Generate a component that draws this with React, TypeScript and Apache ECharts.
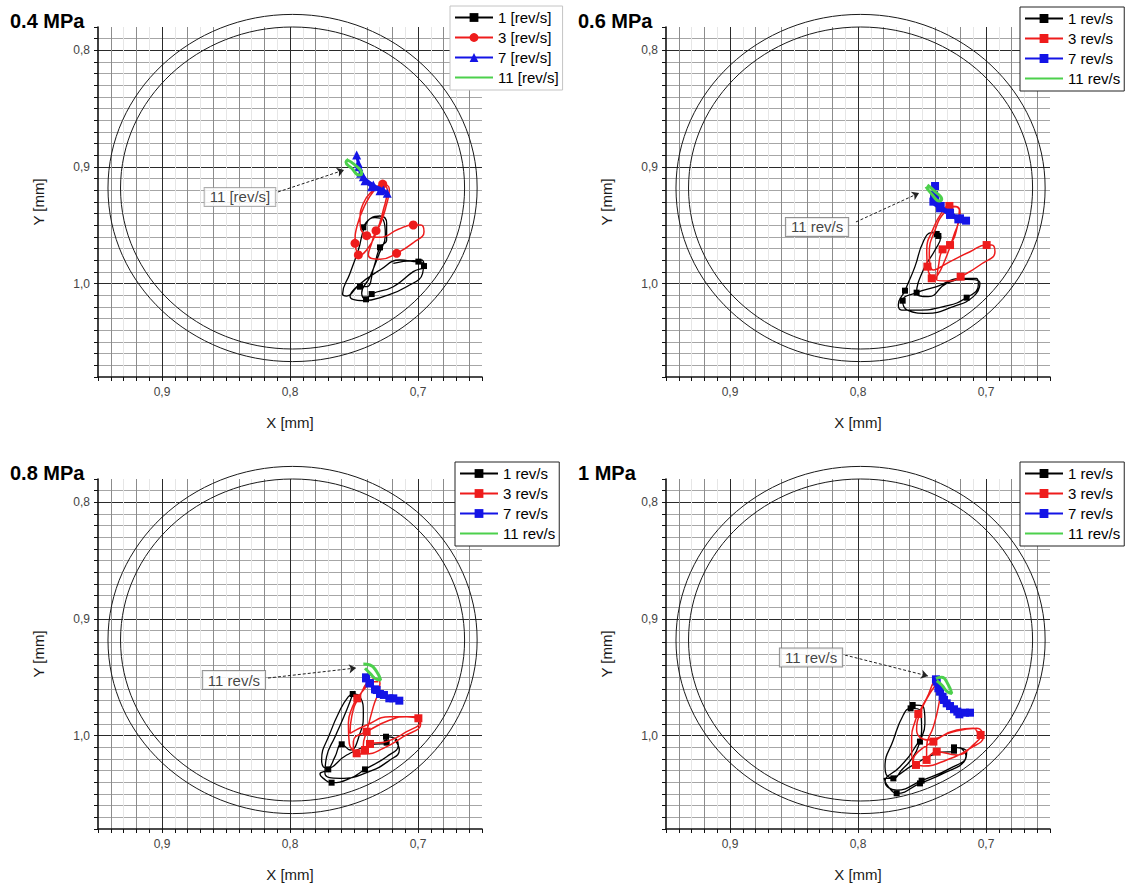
import React, { useEffect, useRef } from "react";
import * as echarts from "echarts";

type Pt = [number, number];

// ---------------- 0.4 MPa ----------------
const p04Rev1: Pt[] = [
  [0.7427, 0.9517], [0.7375, 0.9443], [0.7297, 0.942], [0.7245, 0.9483], [0.7245, 0.9626],
  [0.7297, 0.9689], [0.7344, 0.9854], [0.7401, 1.0026], [0.7453, 1.0026], [0.7557, 1.0106],
  [0.7589, 1.0089], [0.7531, 0.9911], [0.7466, 0.9711], [0.7406, 0.9489], [0.7336, 0.9434],
  [0.7271, 0.9454], [0.7255, 0.9583], [0.7302, 0.974], [0.7375, 0.994], [0.744, 1.0083],
  [0.7406, 1.0134], [0.7362, 1.0089], [0.7193, 1.0026], [0.7037, 0.9897], [0.6953, 0.9849],
  [0.6971, 0.9797], [0.6997, 0.9811], [0.7141, 0.9797], [0.7297, 0.9883], [0.7479, 1.0026],
  [0.7531, 1.0111], [0.7427, 1.0146], [0.7271, 1.0111], [0.7089, 1.0026], [0.6964, 0.9911],
  [0.6958, 0.984], [0.7037, 0.9803], [0.7193, 0.9826],
];
const p04Rev1Marks = [0, 5, 8, 20, 21, 24, 26];
const p04Rev3: Pt[] = [
  [0.7466, 0.9754], [0.7492, 0.9654], [0.7474, 0.9497], [0.7414, 0.9326], [0.7344, 0.9203],
  [0.7276, 0.9146], [0.7224, 0.9191], [0.725, 0.934], [0.7297, 0.9497], [0.7328, 0.9546],
  [0.7362, 0.9654], [0.7388, 0.9754], [0.7297, 0.9791], [0.7167, 0.974], [0.7037, 0.9649],
  [0.6953, 0.9554], [0.6979, 0.9497], [0.7037, 0.9497], [0.7154, 0.9534], [0.7297, 0.9603],
  [0.7401, 0.9589], [0.7453, 0.9454], [0.7427, 0.9311], [0.7362, 0.9211], [0.7284, 0.9154],
  [0.724, 0.9197], [0.7271, 0.9369], [0.7323, 0.9554], [0.7401, 0.9711], [0.7458, 0.9763],
];
const p04Rev3Marks = [0, 1, 5, 9, 13, 17, 20];
const p04Rev7: Pt[] = [
  [0.7479, 0.8897], [0.7466, 0.8969], [0.7448, 0.9054], [0.7414, 0.9117], [0.7362, 0.9169],
  [0.7297, 0.9203], [0.724, 0.9226], [0.7271, 0.9197], [0.7349, 0.9154], [0.7427, 0.9083],
  [0.7463, 0.8997],
];
const p04Rev11: Pt[] = [
  [0.7552, 0.894], [0.7492, 0.8983], [0.744, 0.9054], [0.7458, 0.9069], [0.7518, 0.9011],
  [0.7563, 0.8957], [0.7544, 0.8934],
];
const p04NotePos: Pt = [0.8391, 0.9257];
const p04Arrow: Pt[] = [[0.8094, 0.9214], [0.7578, 0.9026]];

// ---------------- 0.6 MPa ----------------
const p06Rev1: Pt[] = [
  [0.7372, 0.9591], [0.7424, 0.9563], [0.749, 0.964], [0.7555, 0.9854], [0.762, 1.0026],
  [0.7633, 1.006], [0.7685, 1.0183], [0.7659, 1.0226], [0.7542, 1.0226], [0.7333, 1.0197],
  [0.7151, 1.012], [0.706, 1.0011], [0.7073, 0.9954], [0.7203, 0.9954], [0.7385, 1.0026],
  [0.7542, 1.0077], [0.7651, 1.0146], [0.7614, 1.0226], [0.7464, 1.0254], [0.7255, 1.0197],
  [0.7099, 1.0111], [0.7047, 0.9997], [0.7151, 0.9963], [0.7307, 0.9997], [0.7451, 1.0111],
  [0.7542, 1.0077], [0.749, 0.9883], [0.7398, 0.9711], [0.7354, 0.9597], [0.7385, 0.9574],
];
const p06Rev1Marks = [0, 5, 10, 15, 16, 29];
const p06Rev3: Pt[] = [
  [0.7424, 0.9954], [0.7458, 0.9854], [0.7463, 0.9711], [0.7411, 0.9526], [0.7346, 0.9391],
  [0.7286, 0.9334], [0.7208, 0.9363], [0.7224, 0.9511], [0.7281, 0.9669], [0.7339, 0.9706],
  [0.7372, 0.9854], [0.7385, 0.9969], [0.7281, 0.9977], [0.7198, 0.994], [0.7047, 0.984],
  [0.693, 0.9726], [0.6956, 0.9669], [0.6995, 0.9669], [0.7125, 0.9726], [0.7281, 0.9811],
  [0.7411, 0.9883], [0.7443, 0.974], [0.7398, 0.954], [0.732, 0.9383], [0.7242, 0.934],
  [0.7203, 0.9397], [0.7255, 0.9597], [0.732, 0.9797], [0.7385, 0.994], [0.7432, 0.9974],
];
const p06Rev3Marks = [0, 1, 5, 8, 9, 13, 17];
const p06Rev7: Pt[] = [
  [0.7398, 0.9163], [0.7406, 0.924], [0.7411, 0.9297], [0.7359, 0.9354], [0.7281, 0.9411],
  [0.7216, 0.9449], [0.7156, 0.946], [0.7203, 0.944], [0.7281, 0.9391], [0.7354, 0.9334],
  [0.7396, 0.9269],
];
const p06Rev11: Pt[] = [
  [0.7458, 0.9154], [0.7398, 0.9211], [0.7346, 0.9277], [0.7365, 0.9291], [0.7425, 0.9231],
  [0.7469, 0.9169],
];
const p06NotePos: Pt = [0.832, 0.9514];
const p06Arrow: Pt[] = [[0.8016, 0.9471], [0.7523, 0.9223]];

// ---------------- 0.8 MPa ----------------
const p08Rev1: Pt[] = [
  [0.751, 0.9643], [0.7453, 0.9666], [0.7427, 0.9809], [0.7453, 0.998], [0.7531, 1.0123],
  [0.7596, 1.0074], [0.7648, 1.018], [0.7701, 1.0289], [0.7766, 1.0329], [0.774, 1.0366],
  [0.7675, 1.0403], [0.7531, 1.0366], [0.7414, 1.0289], [0.7245, 1.018], [0.7154, 1.008],
  [0.718, 1.0023], [0.725, 1.0009], [0.7245, 1.006], [0.7375, 1.008], [0.7557, 1.0166],
  [0.7714, 1.028], [0.7753, 1.0209], [0.7688, 0.998], [0.7609, 0.978], [0.7544, 0.9666],
  [0.751, 0.9643], [0.7557, 0.978], [0.7648, 1.0009], [0.7714, 1.018], [0.7727, 1.0323],
  [0.7609, 1.0366], [0.7401, 1.0317], [0.7219, 1.0209], [0.7146, 1.0123], [0.718, 1.0037],
];
const p08Rev1Marks = [0, 5, 7, 10, 12, 16, 17];
const p08Rev3: Pt[] = [
  [0.7479, 1.0151], [0.7537, 1.0066], [0.7544, 0.9894], [0.7511, 0.9751], [0.7474, 0.968],
  [0.7414, 0.9594], [0.7336, 0.9509], [0.7297, 0.9551], [0.7349, 0.9751], [0.7401, 0.9966],
  [0.7427, 1.008], [0.7414, 1.0123], [0.7375, 1.0071], [0.7245, 1.0051], [0.7089, 0.9966],
  [0.6984, 0.988], [0.6997, 0.9851], [0.7089, 0.9837], [0.7219, 0.9866], [0.7375, 0.9951],
  [0.7505, 1.0051], [0.7505, 1.0137], [0.7414, 1.0157], [0.7271, 1.0109], [0.7115, 1.0009],
  [0.6979, 0.99], [0.7023, 0.9837], [0.7219, 0.9837], [0.7401, 0.9909], [0.7531, 0.998],
  [0.7518, 0.9837], [0.7458, 0.9666], [0.7362, 0.9537], [0.731, 0.9537],
];
const p08Rev3Marks = [0, 4, 9, 11, 12, 16];
const p08Rev7: Pt[] = [
  [0.7406, 0.95], [0.738, 0.9551], [0.7336, 0.9603], [0.7297, 0.9643], [0.7224, 0.968],
  [0.7146, 0.97], [0.7193, 0.968], [0.7266, 0.9651], [0.7323, 0.9609], [0.7375, 0.9551],
  [0.7406, 0.9509],
];
const p08Rev11: Pt[] = [
  [0.7427, 0.9386], [0.7375, 0.9394], [0.7323, 0.9451], [0.7292, 0.9523], [0.7323, 0.9517],
  [0.7375, 0.9466], [0.7414, 0.9423],
];
const p08NotePos: Pt = [0.8438, 0.9523];
const p08Arrow: Pt[] = [[0.8172, 0.9506], [0.7484, 0.942]];

// ---------------- 1 MPa ----------------
const p10Rev1: Pt[] = [
  [0.7573, 0.9737], [0.749, 0.9751], [0.7477, 0.9894], [0.7516, 1.0051], [0.7568, 1.018],
  [0.7659, 1.0294], [0.7724, 1.0366], [0.7797, 1.0366], [0.7763, 1.0437], [0.7698, 1.0494],
  [0.7516, 1.0409], [0.7333, 1.0323], [0.7164, 1.0209], [0.7151, 1.0137], [0.725, 1.01],
  [0.725, 1.0129], [0.7385, 1.0151], [0.7568, 1.0251], [0.775, 1.0357], [0.7789, 1.0266],
  [0.7724, 1.0037], [0.7646, 0.9823], [0.7589, 0.9766], [0.7516, 0.978], [0.7503, 0.9951],
  [0.7568, 1.0123], [0.7672, 1.0266], [0.7789, 1.0394], [0.7698, 1.0466], [0.7503, 1.0386],
  [0.7281, 1.028], [0.7156, 1.0174], [0.7203, 1.01],
];
const p10Rev1Marks = [0, 3, 6, 9, 10, 14, 15, 22, 29];
const p10Rev3: Pt[] = [
  [0.7547, 1.0251], [0.7581, 1.0166], [0.7581, 1.0009], [0.7555, 0.988], [0.7529, 0.9814],
  [0.7464, 0.968], [0.7385, 0.9529], [0.7354, 0.958], [0.7372, 0.9751], [0.7411, 0.9923],
  [0.7464, 1.0094], [0.7464, 1.0208], [0.7385, 1.0137], [0.7229, 1.0166], [0.7086, 1.0066],
  [0.7026, 0.9986], [0.7042, 0.9994], [0.7099, 0.9937], [0.7229, 0.9951], [0.7411, 1.0051],
  [0.7529, 1.0137], [0.7568, 1.0208], [0.749, 1.026], [0.7307, 1.0208], [0.7125, 1.0109],
  [0.7021, 1.0009], [0.7073, 0.9937], [0.7255, 0.9966], [0.7451, 1.0037], [0.7542, 0.9951],
  [0.7516, 0.9809], [0.7438, 0.9637], [0.7372, 0.9537],
];
const p10Rev3Marks = [0, 4, 11, 12, 16, 19];
const p10Rev7: Pt[] = [
  [0.7391, 0.9517], [0.7372, 0.9594], [0.7339, 0.9666], [0.7307, 0.9723], [0.725, 0.9774],
  [0.7208, 0.9817], [0.7125, 0.9803], [0.7164, 0.9803], [0.7224, 0.9794], [0.7281, 0.9746],
  [0.7328, 0.9694], [0.7359, 0.9623], [0.7385, 0.9537],
];
const p10Rev11: Pt[] = [
  [0.7391, 0.9509], [0.7346, 0.95], [0.7294, 0.9566], [0.7268, 0.9638], [0.7302, 0.9623],
  [0.7346, 0.9566], [0.7385, 0.9529],
];
const p10NotePos: Pt = [0.8367, 0.933];
const p10Arrow: Pt[] = [[0.8102, 0.9309], [0.7453, 0.9489]];

// ---------------- reference rings (centre, radii in mm) ----------------
const ringCenter: Pt = [0.798, 0.918];
const ringOuter: Pt = [0.1442, 0.1488];
const ringInner: Pt = [0.1344, 0.138];

// ---------------- axes ----------------
const xRange: Pt = [0.65, 0.95];
const yRange: Pt = [0.78, 1.08];
const tickStep = 0.01;

const panelTitles = ["0.4 MPa", "0.6 MPa", "0.8 MPa", "1 MPa"];
const namesBracket = ["1 [rev/s]", "3 [rev/s]", "7 [rev/s]", "11 [rev/s]"];
const namesPlain = ["1 rev/s", "3 rev/s", "7 rev/s", "11 rev/s"];
const noteTexts = ["11 [rev/s]", "11 rev/s", "11 rev/s", "11 rev/s"];

const FONT = 'Arial, "Liberation Sans", Helvetica, sans-serif';

const panels = [
  { traces: [p04Rev1, p04Rev3, p04Rev7, p04Rev11], marks: [p04Rev1Marks, p04Rev3Marks], note: p04NotePos, arrow: p04Arrow, names: namesBracket },
  { traces: [p06Rev1, p06Rev3, p06Rev7, p06Rev11], marks: [p06Rev1Marks, p06Rev3Marks], note: p06NotePos, arrow: p06Arrow, names: namesPlain },
  { traces: [p08Rev1, p08Rev3, p08Rev7, p08Rev11], marks: [p08Rev1Marks, p08Rev3Marks], note: p08NotePos, arrow: p08Arrow, names: namesPlain },
  { traces: [p10Rev1, p10Rev3, p10Rev7, p10Rev11], marks: [p10Rev1Marks, p10Rev3Marks], note: p10NotePos, arrow: p10Arrow, names: namesPlain },
];

// layout / style
const GRID_W = 384;
const GRID_H = 350;
const gridPos = [[98, 27], [666, 27], [98, 479], [666, 479]];
const titlePos = [[10, 11], [578, 11], [10, 463], [578, 463]];
const legendPos = [[450, 6], [1020, 7], [455, 462], [1020, 462]];
const traceColors = ["#000000", "#ee1c1c", "#1414e6", "#4cd04c"];
const traceWidths = [1.3, 1.5, 3, 3];

const tickLabel = (v: number) => {
  const t = Math.round(v * 100);
  return t % 10 === 0 ? (t / 100).toFixed(1).replace(".", ",") : "";
};

const xGridColors = Array.from({ length: 31 }, (_, i) => {
  const h = 65 + i;
  if (h === 65 || h === 95) return "rgba(0,0,0,0)";
  if (h % 10 === 0) return "#2a2a2a";
  return h % 2 === 0 ? "#8c8c8c" : "#e6e6e6";
});
const yGridColors = Array.from({ length: 31 }, (_, i) => {
  const h = 78 + i;
  if (h === 78 || h === 108) return "rgba(0,0,0,0)";
  return h % 10 === 0 ? "#2a2a2a" : "#a6a6a6";
});

function buildOption() {
  const grid: any[] = [];
  const xAxis: any[] = [];
  const yAxis: any[] = [];
  const title: any[] = [];
  const legend: any[] = [];
  const series: any[] = [];

  panels.forEach((p, i) => {
    grid.push({ left: gridPos[i][0], top: gridPos[i][1], width: GRID_W, height: GRID_H, containLabel: false });
    title.push({
      text: panelTitles[i],
      left: titlePos[i][0],
      top: titlePos[i][1],
      padding: 0,
      textStyle: { fontSize: 20, fontWeight: "bold", color: "#000", fontFamily: FONT },
    });
    xAxis.push({
      gridIndex: i,
      type: "value",
      min: xRange[0],
      max: xRange[1],
      interval: tickStep,
      inverse: true,
      name: "X [mm]",
      nameLocation: "middle",
      nameGap: 38,
      nameTextStyle: { fontSize: 15, color: "#1a1a1a", fontFamily: FONT },
      axisLine: { show: true, onZero: false, lineStyle: { color: "#111", width: 1.6 } },
      axisTick: { show: true, length: 4, lineStyle: { color: "#111", width: 1 } },
      axisLabel: { formatter: tickLabel, fontSize: 12, color: "#444", margin: 9, fontFamily: FONT },
      splitLine: { show: true, lineStyle: { color: xGridColors, width: 1 } },
    });
    yAxis.push({
      gridIndex: i,
      type: "value",
      min: yRange[0],
      max: yRange[1],
      interval: tickStep,
      inverse: true,
      name: "Y [mm]",
      nameLocation: "middle",
      nameGap: 52,
      nameTextStyle: { fontSize: 15, color: "#1a1a1a", fontFamily: FONT },
      axisLine: { show: true, onZero: false, lineStyle: { color: "#111", width: 1.6 } },
      axisTick: { show: true, length: 4, lineStyle: { color: "#111", width: 1 } },
      axisLabel: { formatter: tickLabel, fontSize: 12, color: "#444", margin: 8, fontFamily: FONT },
      splitLine: { show: true, lineStyle: { color: yGridColors, width: 1 } },
    });

    legend.push({
      orient: "vertical",
      left: legendPos[i][0],
      top: legendPos[i][1],
      data: p.names.map((n, k) => (k === 3 ? { name: n, itemStyle: { opacity: 0 } } : n)),
      itemWidth: 38,
      itemHeight: 11,
      itemGap: 5,
      padding: [4, 4, 5, 4],
      borderColor: i === 0 ? "#c4c4c4" : "#222",
      borderWidth: 1,
      backgroundColor: "#fff",
      selectedMode: false,
      textStyle: { fontSize: 15, color: "#000", fontFamily: FONT },
    });

    // reference rings
    series.push({
      type: "custom",
      name: "ring" + i,
      xAxisIndex: i,
      yAxisIndex: i,
      silent: true,
      z: 1,
      clip: false,
      encode: { x: 0, y: 1 },
      data: [
        [ringCenter[0], ringCenter[1], ringOuter[0], ringOuter[1]],
        [ringCenter[0], ringCenter[1], ringInner[0], ringInner[1]],
      ],
      renderItem: (_params: any, api: any) => {
        const c = api.coord([api.value(0), api.value(1)]);
        const s = api.size([api.value(2), api.value(3)]);
        return {
          type: "ellipse",
          shape: { cx: c[0], cy: c[1], rx: s[0], ry: s[1] },
          style: { fill: "none", stroke: "#1a1a1a", lineWidth: 1 },
        };
      },
    });

    const symbols = i === 0 ? ["rect", "circle", "triangle", "none"] : ["rect", "rect", "rect", "none"];
    const sizes = i === 0 ? [6, 9, 9, 0] : [6, 8, 8, 0];

    p.traces.forEach((pts, k) => {
      const marks = p.marks[k];
      series.push({
        type: "line",
        name: p.names[k],
        xAxisIndex: i,
        yAxisIndex: i,
        data: pts,
        smooth: 0.5,
        symbol: symbols[k],
        showSymbol: k !== 3,
        symbolSize: marks ? (_v: any, prm: any) => (marks.includes(prm.dataIndex) ? sizes[k] : 0) : sizes[k],
        lineStyle: { color: traceColors[k], width: traceWidths[k] },
        itemStyle: { color: traceColors[k] },
        silent: true,
        z: 3 + k,
      });
    });

    // annotation box + dashed arrow
    series.push({
      type: "scatter",
      name: "note" + i,
      xAxisIndex: i,
      yAxisIndex: i,
      data: [p.note],
      symbolSize: 1,
      itemStyle: { color: "rgba(0,0,0,0)" },
      silent: true,
      z: 10,
      label: {
        show: true,
        position: "inside",
        formatter: noteTexts[i],
        fontSize: 15,
        color: "#111",
        fontFamily: FONT,
        backgroundColor: "#fff",
        borderColor: i === 0 ? "#9a9a9a" : "#777",
        borderWidth: 1,
        padding: [2, 5, 1, 5],
      },
      markLine: {
        silent: true,
        symbol: ["none", "arrow"],
        symbolSize: 7,
        label: { show: false },
        lineStyle: { type: [3, 2], color: "#222", width: 1 },
        data: [[{ coord: p.arrow[0] }, { coord: p.arrow[1] }]],
      },
    });
  });

  return {
    animation: false,
    backgroundColor: "#fff",
    textStyle: { fontFamily: FONT },
    title,
    legend,
    grid,
    xAxis,
    yAxis,
    series,
  };
}

export default function App() {
  const ref = useRef<HTMLDivElement>(null);
  useEffect(() => {
    document.body.style.margin = "0";
    const chart = echarts.init(ref.current!, null, { renderer: "svg" });
    chart.setOption(buildOption() as any);
    return () => chart.dispose();
  }, []);
  return <div ref={ref} style={{ width: 1128, height: 886, background: "#fff" }} />;
}
